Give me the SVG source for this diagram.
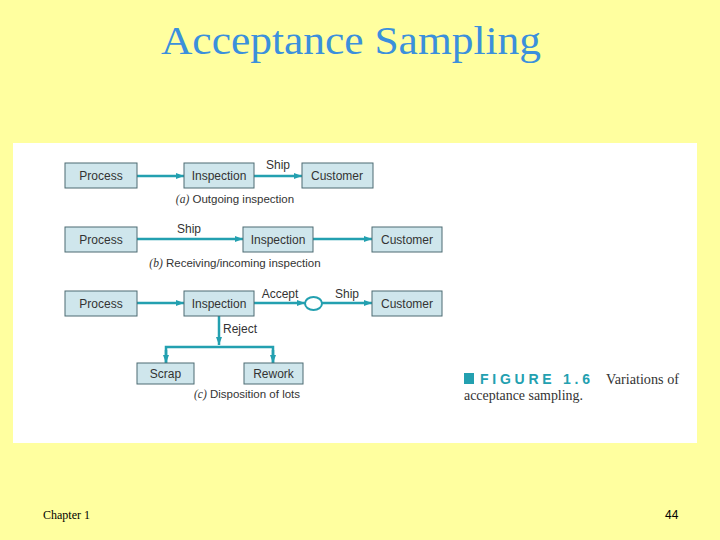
<svg xmlns="http://www.w3.org/2000/svg" width="720" height="540" viewBox="0 0 720 540">
<style>
.box{fill:#cfe6ec;stroke:#4d6b72;stroke-width:1}
.bt{font-family:"Liberation Sans",Arial,sans-serif;font-size:12px;fill:#333;text-anchor:middle}
.lbl{font-family:"Liberation Sans",Arial,sans-serif;font-size:12px;fill:#333;text-anchor:middle}
.cap{font-family:"Liberation Sans",Arial,sans-serif;font-size:11.5px;fill:#333;text-anchor:middle}
.ln{fill:none;stroke:#23a0b0;stroke-width:2.5}
</style>
<defs>
<marker id="ah" markerUnits="userSpaceOnUse" markerWidth="8" markerHeight="6" refX="8" refY="3" orient="auto">
<path d="M0,0 L8,3 L0,6 z" fill="#23a0b0"/>
</marker>
</defs>
<rect x="0" y="0" width="720" height="540" fill="#ffff9f"/>
<text x="351" y="54" font-family="'Liberation Serif','Times New Roman',serif" font-size="40" fill="#3b90dc" text-anchor="middle" textLength="380" lengthAdjust="spacingAndGlyphs">Acceptance Sampling</text>
<rect x="13" y="143" width="684" height="300" fill="#ffffff"/>

<g id="connectors">
<line class="ln" x1="137" y1="176" x2="184" y2="176" marker-end="url(#ah)"/>
<line class="ln" x1="254" y1="176" x2="302" y2="176" marker-end="url(#ah)"/>
<line class="ln" x1="137" y1="239" x2="243" y2="239" marker-end="url(#ah)"/>
<line class="ln" x1="313" y1="239" x2="372" y2="239" marker-end="url(#ah)"/>
<line class="ln" x1="137" y1="303" x2="184" y2="303" marker-end="url(#ah)"/>
<line class="ln" x1="254" y1="303" x2="305" y2="303" marker-end="url(#ah)"/>
<line class="ln" x1="322" y1="303" x2="372" y2="303" marker-end="url(#ah)"/>
<line class="ln" x1="219" y1="316" x2="219" y2="345" marker-end="url(#ah)"/>
<polyline class="ln" points="166,363 166,347 273,347 273,363"/>
<line class="ln" x1="166" y1="350" x2="166" y2="363" marker-end="url(#ah)"/>
<line class="ln" x1="273" y1="350" x2="273" y2="363" marker-end="url(#ah)"/>
</g>

<g id="a-process"><rect class="box" x="65" y="163" width="72" height="25"/><text class="bt" x="101" y="180">Process</text></g>
<g id="a-inspection"><rect class="box" x="184" y="163" width="70" height="25"/><text class="bt" x="219" y="180">Inspection</text></g>
<g id="a-customer"><rect class="box" x="302" y="163" width="71" height="25"/><text class="bt" x="337" y="180">Customer</text></g>
<text class="lbl" x="278" y="169">Ship</text>
<text class="cap" x="235" y="203"><tspan font-style="italic" font-family="'Liberation Serif',serif">(a)</tspan> Outgoing inspection</text>

<g id="b-process"><rect class="box" x="65" y="227" width="72" height="25"/><text class="bt" x="101" y="244">Process</text></g>
<g id="b-inspection"><rect class="box" x="243" y="227" width="70" height="25"/><text class="bt" x="278" y="244">Inspection</text></g>
<g id="b-customer"><rect class="box" x="372" y="227" width="70" height="25"/><text class="bt" x="407" y="244">Customer</text></g>
<text class="lbl" x="189" y="233">Ship</text>
<text class="cap" x="235" y="267"><tspan font-style="italic" font-family="'Liberation Serif',serif">(b)</tspan> Receiving/incoming inspection</text>

<g id="c-process"><rect class="box" x="65" y="291" width="72" height="25"/><text class="bt" x="101" y="308">Process</text></g>
<g id="c-inspection"><rect class="box" x="184" y="291" width="70" height="25"/><text class="bt" x="219" y="308">Inspection</text></g>
<g id="c-node"><ellipse cx="313.5" cy="303.5" rx="8.5" ry="6.5" fill="#ffffff" stroke="#23a0b0" stroke-width="2"/></g>
<g id="c-customer"><rect class="box" x="372" y="291" width="70" height="25"/><text class="bt" x="407" y="308">Customer</text></g>
<g id="c-scrap"><rect class="box" x="137" y="363" width="57" height="21"/><text class="bt" x="165.5" y="378">Scrap</text></g>
<g id="c-rework"><rect class="box" x="244" y="363" width="59" height="21"/><text class="bt" x="273.5" y="378">Rework</text></g>
<text class="lbl" x="280" y="298">Accept</text>
<text class="lbl" x="347" y="298">Ship</text>
<text class="lbl" x="240" y="333">Reject</text>
<text class="cap" x="247" y="398"><tspan font-style="italic" font-family="'Liberation Serif',serif">(c)</tspan> Disposition of lots</text>

<rect x="464" y="373" width="10" height="11" fill="#23a0b0"/>
<text x="480" y="384" font-family="'Liberation Sans',Arial,sans-serif" font-weight="bold" font-size="14" fill="#23a0b0" textLength="110" lengthAdjust="spacing">FIGURE 1.6</text>
<text x="606" y="384" font-family="'Liberation Serif','Times New Roman',serif" font-size="14" fill="#333" textLength="73" lengthAdjust="spacingAndGlyphs">Variations of</text>
<text x="464" y="400" font-family="'Liberation Serif','Times New Roman',serif" font-size="14" fill="#333" textLength="119" lengthAdjust="spacingAndGlyphs">acceptance sampling.</text>

<text x="43" y="519" font-family="'Liberation Serif','Times New Roman',serif" font-size="12" fill="#000">Chapter 1</text>
<text x="665" y="519" font-family="'Liberation Sans',Arial,sans-serif" font-size="12" fill="#000">44</text>
</svg>
